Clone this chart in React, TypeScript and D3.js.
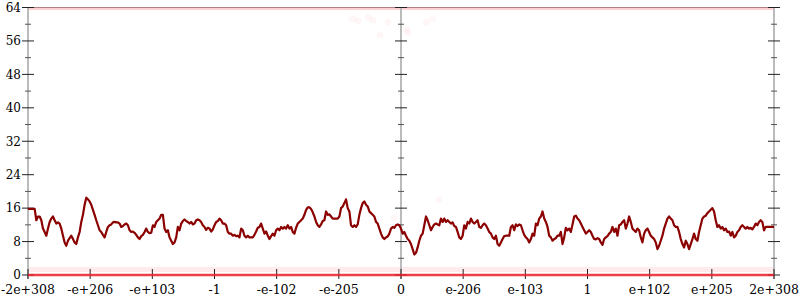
import React from "react";
import * as d3 from "d3";

const tickLabels = ["-2e+308", "-e+206", "-e+103", "-1", "-e-102", "-e-205", "0", "e-206", "e-103", "1", "e+102", "e+205", "2e+308"];
const yTicks = [0, 8, 16, 24, 32, 40, 48, 56, 64];
const yMinor = [4, 12, 20, 28, 36, 44, 52, 60];

// smoothed series, evenly spaced from -2e+308 to 2e+308
const seg1 = [15.8,15.8,15.8,15.8,15.8,13.1,14.0,14.0,13.1,11.1,10.3,9.4,11.1,12.7,13.5,14.0,13.1,12.3,12.6,12.3,11.1,9.4,7.8,7.0,8.2,8.8,9.4,8.6,7.8,7.4,9.0,10.3,12.7,14.4,16.8,18.5,18.1,17.6,16.8,15.6,14.4,13.1,11.9,10.7,10.3,9.6,9.0,10.3,11.5,11.9,12.1,12.6,12.7,12.6,12.6,12.3,11.5,11.7,12.1,12.3,11.9,10.7,10.3,10.4,10.1,9.6,9.0,8.6,9.3,9.6,10.3,11.1,10.3,10.0,10.1,11.9,11.5,12.7,13.1,13.5,14.4,14.4,11.1,10.3,10.7,9.0,8.2,7.4,7.8];
const seg2 = [9.0,11.5,10.7,12.3,12.9,13.3,12.9,12.7,12.3,12.7,12.1,12.3,13.1,13.3,13.1,12.7,11.9,11.5,10.8,11.3,11.1,10.4,10.9,11.9,12.7,12.9,13.5,13.1,12.3,12.3,11.9,10.3,9.9,9.9,9.4,9.6,9.3,9.4,9.0,11.1,10.7,9.4,9.0,9.4,9.0,9.0,9.0,9.6,10.4,11.3,11.5,12.3,11.1,9.9,10.4,9.4,8.6,9.3,9.9,9.4,10.7,11.1,10.7,11.5,11.1,11.5,11.1,11.9,11.1,11.5,10.3,9.9,11.3,12.3,12.7,13.1,13.5,14.4,15.6,16.2,16.2,15.8,15.0,14.0,12.7,11.9,11.5,12.1,12.9,13.1];
const seg3 = [15.2,14.4,14.5,14.0,13.5,13.5,13.5,13.5,14.0,16.0,16.4,17.2,18.1,16.0,15.2,11.9,11.5,11.9,11.5,12.1,14.4,16.0,17.2,17.6,16.8,16.4,15.2,14.8,14.4,14.0,12.7,12.3,11.1,9.9,9.0,8.6,9.0,9.2,9.9,11.1,11.5,11.3,11.9,12.1,11.9,11.1,9.9,10.3,9.4,8.6,8.2,7.4,6.2,4.9,5.3,6.6,8.2,9.4,9.9,11.9,14.0,13.1,11.9,10.7,11.5,12.1,12.3,12.1,11.9,13.5,12.7,13.5,12.7,13.1,12.7,12.3,12.6,11.7,11.5,10.3,9.0,8.6,9.4,11.9,11.1,12.7,12.3,13.5,12.7,12.3];
const seg4 = [12.7,13.1,11.5,11.3,11.9,12.3,11.9,11.1,10.3,9.9,9.0,8.6,9.4,7.4,7.0,7.8,8.6,9.3,9.4,9.4,9.4,11.5,11.9,10.7,12.1,11.7,12.1,11.9,10.7,9.6,9.0,8.6,7.8,8.6,9.9,9.4,12.3,11.9,13.5,14.0,15.2,13.5,12.7,11.5,9.4,9.0,8.2,8.6,8.8,9.4,9.4,10.3,7.4,9.0,11.3,10.7,11.1,10.3,12.1,14.0,14.2,13.5,13.1,12.3,11.5,10.7,9.9,10.3,10.7,10.3,9.4,8.6,8.5,8.8,8.6,7.8,7.2,8.6,9.0,9.3,9.9,10.3,11.5,10.3,11.1,9.4,11.9,12.1,12.7,13.1];
const seg5 = [11.1,12.3,14.0,12.7,11.1,10.7,10.3,11.1,10.7,9.0,7.8,9.9,10.7,11.1,10.3,9.4,9.0,8.6,7.8,6.2,7.0,8.2,9.4,11.1,12.3,13.5,14.0,13.5,13.1,11.9,11.5,11.5,10.3,8.6,7.4,6.6,8.2,7.4,6.2,7.4,8.6,9.9,8.6,8.2,10.3,11.9,13.5,14.0,14.2,14.8,15.2,15.6,16.0,15.2,13.1,11.5,11.9,11.1,11.5,10.7,11.1,10.3,10.4,9.4,10.3,9.0,9.4,10.3,10.7,11.5,11.9,11.5,11.1,11.5,11.1,11.3,10.9,11.5,12.3,11.9,12.7,13.1,12.7,10.7,11.5,11.5,11.5,11.5,11.5,11.5];
const smoothed = [...seg1, ...seg2, ...seg3, ...seg4, ...seg5];

// faint scattered raw points: [position in tick units, value]
const scatterU = [-0.78, -0.69, -0.53, -0.45, -0.34, -0.21, 0.09, 0.11, 0.41, 0.51, -0.11, 0.61];
const scatterV = [61.3, 60.9, 61.7, 61.0, 57.5, 60.5, 58.7, 58.0, 60.5, 61.3, 13.7, 18.0];

const W = 800, H = 300;

export default function App() {
  const x = d3.scaleLinear().domain([-6, 6]).range([28, 774]);
  const y = d3.scaleLinear().domain([0, 64]).range([275, 7.5]);
  const xi = d3.scaleLinear().domain([0, smoothed.length - 1]).range([-6, 6]);
  const line = d3.line<number>().x((d, i) => x(xi(i))).y((d) => y(d));
  const axesX = [-6, 0, 6];
  const font = "DejaVu Serif";

  return (
    <svg width={W} height={H} style={{ position: "absolute", left: 0, top: 0, background: "#fff" }}>
      <line x1={x(-6)} x2={x(6) + 6} y1={y(64)} y2={y(64)} stroke="#999" strokeWidth={1} />
      <line x1={x(-6)} x2={x(6)} y1={y(64) + 1} y2={y(64) + 1} stroke="rgba(255,40,60,0.22)" strokeWidth={3} />
      <line x1={x(-6)} x2={x(6)} y1={y(1.3)} y2={y(1.3)} stroke="rgba(255,60,60,0.1)" strokeWidth={5} />
      {scatterU.map((u, i) => (
        <circle key={i} cx={x(u)} cy={y(scatterV[i])} r={3.5} fill="rgba(255,80,90,0.05)" />
      ))}
      {axesX.map((a) => (
        <g key={a}>
          <line x1={x(a)} x2={x(a)} y1={y(64)} y2={y(0) + 4} stroke="#bbb" strokeWidth={2} />
          {yTicks.map((t) => (
            <line key={t} x1={x(a) - 6} x2={x(a) + 6} y1={y(t)} y2={y(t)} stroke="#222" strokeWidth={1} />
          ))}
          {yMinor.map((t) => (
            <line key={t} x1={x(a) - 3} x2={x(a) + 3} y1={y(t)} y2={y(t)} stroke="#555" strokeWidth={1} />
          ))}
        </g>
      ))}
      {yTicks.map((t) => (
        <text key={t} x={21} y={y(t)} dy="0.36em" textAnchor="end" fontFamily={font} fontSize={12} fill="#000">
          {t}
        </text>
      ))}
      {tickLabels.map((l, i) => (
        <g key={l}>
          <line x1={x(i - 6)} x2={x(i - 6)} y1={y(0) - 6} y2={y(0) + 4} stroke="#222" strokeWidth={1} />
          <text x={x(i - 6)} y={293.5} textAnchor="middle" fontFamily={font} fontSize={12.5} fill="#000">
            {l}
          </text>
        </g>
      ))}
      <line x1={x(-6)} x2={x(6)} y1={y(0)} y2={y(0)} stroke="rgba(235,30,40,0.85)" strokeWidth={2.5} />
      <path d={line(smoothed) || ""} fill="none" stroke="#8b0000" strokeWidth={2.2} strokeLinejoin="round" />
    </svg>
  );
}
